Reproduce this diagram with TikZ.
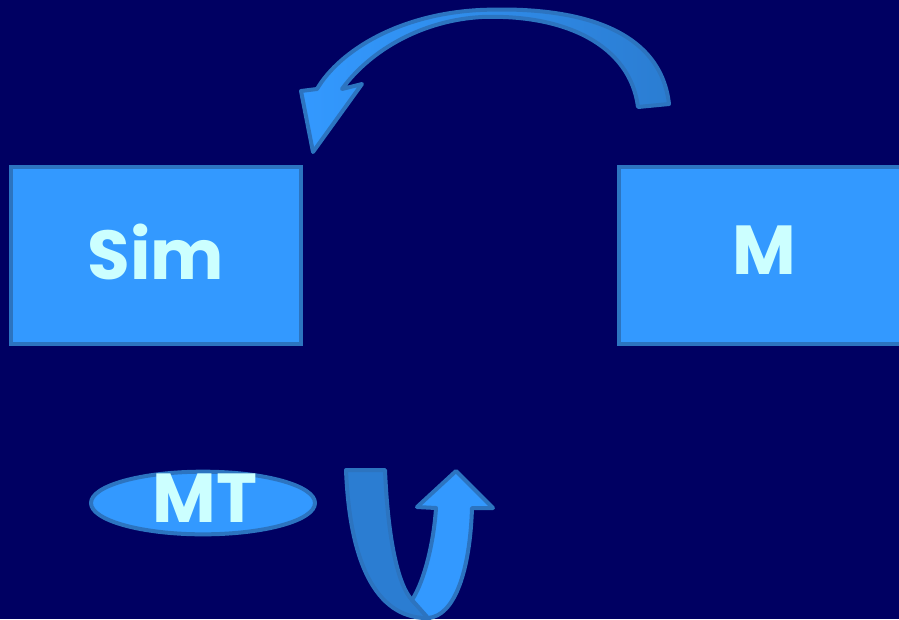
\documentclass[tikz,border=0pt]{standalone}
\usepackage{fontspec}
\setmainfont{Poppins}
\usetikzlibrary{shapes.geometric}
\definecolor{bg}{HTML}{000062}
\definecolor{boxfill}{HTML}{3399FF}
\definecolor{boxline}{HTML}{2C74C0}
\definecolor{darkfill}{HTML}{2B7DD2}
\definecolor{txt}{HTML}{CCFFFF}
\tikzset{
  box/.style={rectangle, fill=boxfill, draw=boxline, line width=3pt, minimum width=217.5pt, minimum height=132.75pt, inner sep=0pt},
  ell/.style={ellipse, fill=boxfill, draw=boxline, line width=3pt, minimum width=168pt, minimum height=47pt, inner sep=0pt},
  lbl/.style={text=txt, font=\fontsize{52}{60}\selectfont\bfseries, inner sep=0pt},
  arrowbody/.style={draw=boxline, line width=3pt, line join=round}
}
\begin{document}
\begin{tikzpicture}[x=0.75pt, y=-0.75pt]
\fill[bg] (0,0) rectangle (899,619);
\useasboundingbox (0,0) rectangle (899,619);
\clip (0,0) rectangle (899,619);
% boxes
\node[box] (sim) at (156,255.5) {};
\node[lbl] (simlabel) at (156,252) {Sim};
\node[box] (m) at (764,255.5) {};
\node[lbl] (mlabel) at (764,250) {M};
% ellipse
\node[ell] (mt) at (203,503) {};
\node[lbl] (mtlabel) at (205,498) {MT};
% top curved arrow
\path[arrowbody, left color=boxfill, right color=darkfill]
  (669,104) .. controls (660,25) and (570,6) .. (480,10)
  .. controls (400,14) and (340,50) .. (317,89)
  -- (301,91) -- (313,152) -- (362,84) -- (342,89)
  .. controls (372,48) and (425,20) .. (482,17)
  .. controls (565,14) and (630,45) .. (638,107) -- cycle;
% U-turn arrow: back leg (dark)
\path[arrowbody, fill=darkfill]
  (346,470) -- (385,470)
  .. controls (388,540) and (398,585) .. (412,600)
  -- (430,618)
  .. controls (380,620) and (350,570) .. (346,470) -- cycle;
% front leg (light)
\path[arrowbody, fill=boxfill]
  (412,600) .. controls (425,580) and (434,540) .. (436,508)
  -- (417,507) -- (456,471) -- (493,508) -- (472,508)
  .. controls (470,570) and (455,616) .. (428,618) -- cycle;
\end{tikzpicture}
\end{document}
